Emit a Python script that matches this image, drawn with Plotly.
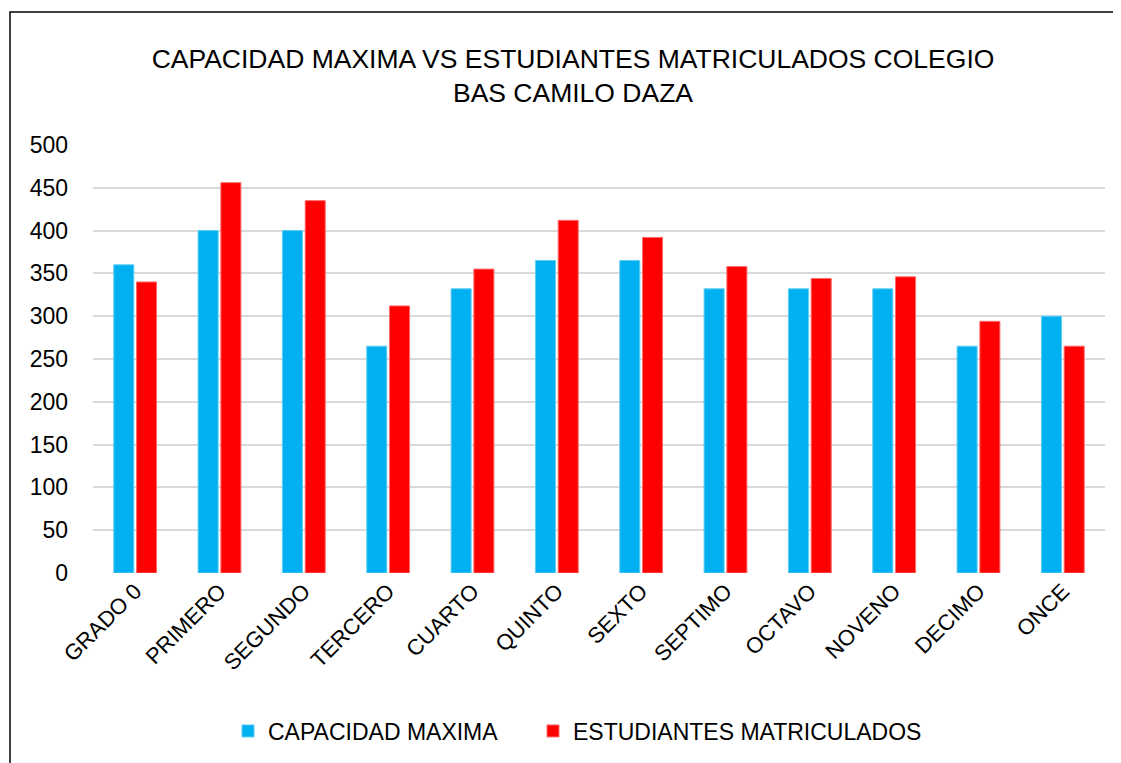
import plotly.graph_objects as go

categorias = ["GRADO 0", "PRIMERO", "SEGUNDO", "TERCERO", "CUARTO", "QUINTO",
              "SEXTO", "SEPTIMO", "OCTAVO", "NOVENO", "DECIMO", "ONCE"]
capacidad_maxima = [360, 400, 400, 265, 332, 365, 365, 332, 332, 332, 265, 300]
estudiantes_matriculados = [340, 456, 435, 312, 355, 412, 392, 358, 344, 346, 294, 265]
y_ticks = [0, 50, 100, 150, 200, 250, 300, 350, 400, 450, 500]

FONT = "Liberation Sans"
W, H = 1113, 755          # page body has an 8px margin
L, T, PW, PH = 85, 137, 1012, 428
R = W - L - PW
B = H - T - PH
PB = T + PH

fig = go.Figure()
fig.add_trace(go.Bar(x=categorias, y=capacidad_maxima, name="CAPACIDAD MAXIMA",
                     legend="legend",
                     marker=dict(color="#00B0F0", line=dict(color="#5FCDF5", width=1))))
fig.add_trace(go.Bar(x=categorias, y=estudiantes_matriculados, name="ESTUDIANTES MATRICULADOS",
                     legend="legend2",
                     marker=dict(color="#FF0000", line=dict(color="#FF6B6B", width=1))))

leg_y = (PB - (731 - 8)) / PH
leg_font = dict(family=FONT, size=23, color="#000000")
fig.update_layout(
    width=W, height=H,
    paper_bgcolor="white", plot_bgcolor="white",
    margin=dict(l=L, r=R, t=T, b=B, autoexpand=False),
    barmode="group", bargap=0.46, bargroupgap=0.12,
    font=dict(family=FONT, color="#000000", size=22),
    title=dict(text="CAPACIDAD MAXIMA VS ESTUDIANTES MATRICULADOS COLEGIO<br>BAS CAMILO DAZA",
               x=(573 - 8) / W, xanchor="center", y=1 - 60 / H, yanchor="middle",
               font=dict(family=FONT, size=26.5, color="#000000")),
    legend=dict(orientation="h", xref="container", x=(243 - 8 - 15) / W,
                xanchor="left", y=leg_y, yanchor="middle", font=leg_font),
    legend2=dict(orientation="h", xref="container", x=(553 - 8 - 20) / W,
                 xanchor="left", y=leg_y, yanchor="middle", font=leg_font),
    showlegend=True,
)
fig.update_yaxes(range=[0, 500], tickvals=y_ticks, showgrid=True, gridcolor="#D9D9D9",
                 gridwidth=1.5, zeroline=False, showline=False, ticks="",
                 ticklabelstandoff=24, tickfont=dict(family=FONT, size=23, color="#000000"))
fig.update_xaxes(tickangle=-45, showline=False, ticks="", showgrid=False,
                 tickfont=dict(family=FONT, size=22, color="#000000"))

# outer chart frame (partly cropped in the reference)
fig.add_shape(type="rect", xref="paper", yref="paper",
              x0=(2 - L) / PW, x1=(1130 - L) / PW,
              y0=(PB - 780) / PH, y1=(PB - 4) / PH,
              line=dict(color="#000000", width=1.5), layer="below")

fig.write_html("out.html")
